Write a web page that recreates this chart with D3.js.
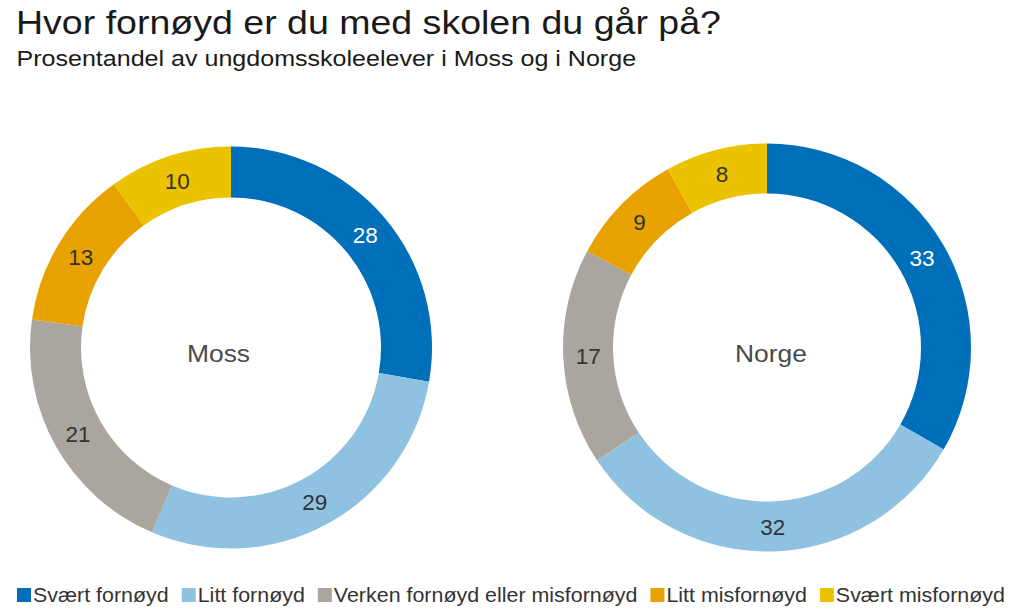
<!DOCTYPE html>
<html>
<head>
<meta charset="utf-8">
<script src="https://cdn.jsdelivr.net/npm/d3@7"></script>
<style>
  html, body { margin: 0; padding: 0; background: #fff; }
  svg { display: block; }
  text { font-family: "Liberation Sans", Arial, sans-serif; }
</style>
</head>
<body>
<svg id="chart" width="1024" height="611"></svg>
<script>
const title = "Hvor fornøyd er du med skolen du går på?";
const subtitle = "Prosentandel av ungdomsskoleelever i Moss og i Norge";
const categories = ["Svært fornøyd", "Litt fornøyd", "Verken fornøyd eller misfornøyd", "Litt misfornøyd", "Svært misfornøyd"];
const colors = ["#006fba", "#8ec2e0", "#aba59f", "#e8a200", "#ebc200"];
const places = ["Moss", "Norge"];
const mossValues = [28, 29, 21, 13, 10];
const norgeValues = [33, 32, 17, 9, 8];

const svg = d3.select("#chart");

// stretch a text horizontally by a factor of its natural width; returns new width
function stretch(sel, factor) {
  let w = 0;
  sel.each(function () {
    w = this.getComputedTextLength() * factor;
    d3.select(this).attr("textLength", w).attr("lengthAdjust", "spacingAndGlyphs");
  });
  return w;
}

stretch(svg.append("text").attr("x", 16).attr("y", 34)
  .attr("font-size", 33.5).attr("fill", "#1a1a1a").text(title), 1.12);
stretch(svg.append("text").attr("x", 16.5).attr("y", 65.5)
  .attr("font-size", 21.5).attr("fill", "#1a1a1a").text(subtitle), 1.165);

const color = d3.scaleOrdinal().domain(categories).range(colors);
const pie = d3.pie().sort(null).value(d => d.value);

const donuts = [
  { name: places[0], values: mossValues, cx: 231, cy: 347.5, r0: 150, r1: 201, labelDx: -12.5 },
  { name: places[1], values: norgeValues, cx: 767, cy: 347.5, r0: 154, r1: 204, labelDx: 4 }
];

donuts.forEach(dn => {
  const data = categories.map((c, i) => ({ cat: c, value: dn.values[i] }));
  const arcs = pie(data);
  const arc = d3.arc().innerRadius(dn.r0).outerRadius(dn.r1);
  const mid = (dn.r0 + dn.r1) / 2;
  const labelArc = d3.arc().innerRadius(mid).outerRadius(mid);
  const g = svg.append("g").attr("transform", `translate(${dn.cx},${dn.cy})`);
  g.selectAll("path").data(arcs).join("path")
    .attr("d", arc).attr("fill", d => color(d.data.cat));
  g.selectAll("text.val").data(arcs).join("text")
    .attr("class", "val")
    .attr("transform", d => `translate(${labelArc.centroid(d)})`)
    .attr("text-anchor", "middle").attr("dy", "0.36em")
    .attr("font-size", 22.5)
    .attr("fill", (d, i) => i === 0 ? "#ffffff" : "#333333")
    .text(d => d.data.value);
  stretch(g.append("text").attr("text-anchor", "middle")
    .attr("x", dn.labelDx).attr("y", 14.5)
    .attr("font-size", 24).attr("fill", "#4a4a4a").text(dn.name), 1.1);
});

// legend
const lg = svg.append("g").attr("transform", "translate(17,0)");
let x = 0;
categories.forEach((c, i) => {
  const item = lg.append("g").attr("transform", `translate(${x},0)`);
  item.append("rect").attr("x", 0).attr("y", 588).attr("width", 14).attr("height", 14).attr("fill", colors[i]);
  const t = item.append("text").attr("x", 16).attr("y", 602)
    .attr("font-size", 21).attr("fill", "#333").text(c);
  const w = stretch(t, 1.02);
  x += 16 + w + 13;
});
</script>
</body>
</html>
